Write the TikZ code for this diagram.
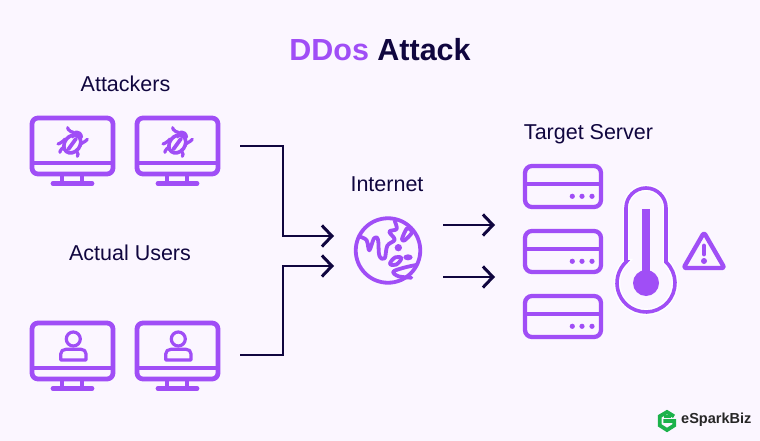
\documentclass[tikz,border=0pt]{standalone}
\usepackage{fontspec}
\setmainfont{Liberation Sans}
\usetikzlibrary{arrows.meta}
\definecolor{pagebg}{HTML}{FBF6FF}
\definecolor{vio}{HTML}{A04EF6}
\definecolor{navy}{HTML}{10063F}
\definecolor{leaf}{HTML}{1CB24B}
\tikzset{
  icon/.style={draw=vio,line width=#1,line join=round,line cap=round},
  icon/.default=4.3,
  wire/.style={draw=navy,line width=2.8,-{Straight Barb[length=10pt,width=21pt,line width=3pt]}},
  label/.style={text=navy,font=\fontsize{21.5}{21.5}\selectfont,anchor=center},
  pics/monitor/.style={code={
    \draw[icon=4.8,rounded corners=6] (0,0) rectangle (81,56);
    \draw[icon=4.8,line cap=butt] (0,45) -- (81,45);
    \draw[icon=4.8,line cap=butt] (30,56) -- (30,65);
    \draw[icon=4.8,line cap=butt] (50,56) -- (50,65);
    \draw[icon=4.8] (21,65.5) -- (60,65.5);
  }},
  pics/bug/.style={code={
    \begin{scope}[shift={(18,2)},scale=1/3]
      \draw[icon=3.6,shift={(67,72)},rotate=52] (0,0) ellipse [x radius=29,y radius=23];
      \draw[icon=3.6] (68,50) .. controls (66,34) and (92,30) .. (94,52);
      \draw[icon=3.8] (55,88) -- (78,56);
      \draw[icon=3.2,rounded corners=2] (69,36) -- (57,34) -- (53,23);
      \draw[icon=3.2,rounded corners=2] (45,57) -- (36,67) -- (24,72);
      \draw[icon=3.2,rounded corners=2] (41,83) -- (31,87) -- (30,97);
      \draw[icon=3.2,rounded corners=2] (77,93) -- (86,97) -- (82,109);
      \draw[icon=3.2,rounded corners=2] (90,72) -- (101,68) -- (112,58);
    \end{scope}
  }},
  pics/user/.style={code={
    \draw[icon=3.2] (41.3,16) circle (7);
    \draw[icon=3.2] (28.7,37) -- (28.7,31) .. controls (28.7,28) and (31,26.3) .. (34,26.3)
      -- (49,26.3) .. controls (52,26.3) and (54,28) .. (54,31) -- (54,37) -- cycle;
  }},
  pics/rack/.style={code={
    \draw[icon,rounded corners=7] (0,0) rectangle (76,41);
    \draw[icon,line cap=butt] (0,18) -- (76,18);
    \foreach \k in {47.3,57,67} \fill[vio] (\k,30.3) circle (2.6);
  }},
}
\begin{document}
\begin{tikzpicture}[x=1pt,y=-1pt]
\useasboundingbox[fill=pagebg] (0,0) rectangle (760,441);

% headings
\node[font=\bfseries\fontsize{30.5}{30.5}\selectfont] (title) at (380,50) {\textcolor{vio}{DDos} \textcolor{navy}{Attack}};
\node[label] (attackers) at (125.5,84) {Attackers};
\node[label] (users) at (130,253) {Actual Users};
\node[label] (internet) at (387,184) {Internet};
\node[label] (target) at (588.5,134) {Target Server};

% monitors
\foreach \x in {32,137}{
  \pic at (\x,118) {monitor};
  \pic at (\x,118) {bug};
  \pic at (\x,323) {monitor};
  \pic at (\x,323) {user};
}

% globe
\node[circle,draw=vio,line width=3.8,minimum size=64.5,inner sep=0] (globe) at (388,250.5) {};
\begin{scope}[shift={(352,215)},scale=1/3]
  \draw[icon=3.8] plot[smooth,tension=.6] coordinates {(26,66) (44,76) (52,106) (66,70) (78,74) (82,122) (98,130)
    (106,92) (128,74) (112,50) (134,42) (128,18)};
  \draw[icon=3.8] plot[smooth cycle,tension=.5] coordinates {(150,72) (165,40) (180,52) (158,76)};
  \draw[icon=3.8] plot[smooth cycle,tension=.7] coordinates {(114,146) (130,127) (148,130) (132,149)};
  \draw[icon=3.8] plot[smooth,tension=.6] coordinates {(192,150) (156,158) (124,170) (140,184) (178,188)};
  \fill[vio] (139,98) circle (11);
  \fill[vio] (168,127) ellipse [x radius=14,y radius=9];
\end{scope}

% wires
\coordinate (attackout) at (240,146);
\coordinate (userout) at (240,355);
\coordinate (attackin) at (334,236);
\coordinate (userin) at (334,266);
\coordinate (netout1) at (443,225);
\coordinate (netout2) at (443,277);
\coordinate (srvin1) at (495,225);
\coordinate (srvin2) at (495,277);
\draw[wire] (attackout) -- (283,146) |- (attackin);
\draw[wire] (userout) -- (283,355) |- (userin);
\draw[wire] (netout1) -- (srvin1);
\draw[wire] (netout2) -- (srvin2);

% servers
\foreach \y in {166,231,296}
  \pic at (525,\y) {rack};

% thermometer
\foreach \c/\w in {white/6.5,vio/3.6}
  \draw[draw=\c,line width=\w] (626,262) -- (626,208) arc (180:360:20) -- (666,262) arc (-46.4:226.4:29) -- cycle;
\draw[vio,line width=7.4] (646,209) -- (646,283);
\fill[vio] (646,283) circle (13);

% warning sign
\draw[icon=4.4,rounded corners=2.5] (704,232.5) -- (724.5,268) -- (683.5,268) -- cycle;
\draw[icon=4.8] (704,246) -- (704,254);
\fill[vio] (704,261) circle (3);

% logo
\begin{scope}[shift={(654,408)},scale=1/3]
  \draw[draw=leaf,line width=3.8,line join=miter] (60,25) -- (39,12) -- (17,25) -- (17,52) -- (39,66) -- (61,52) -- (61,39) -- (28,39);
  \draw[draw=leaf,line width=3.2] (30,26) -- (50,26);
\end{scope}
\node[font=\bfseries\fontsize{14.5}{14.5}\selectfont,text=black!85,anchor=west,inner sep=0] (brand) at (681,420) {eSparkBiz};
\end{tikzpicture}
\end{document}
